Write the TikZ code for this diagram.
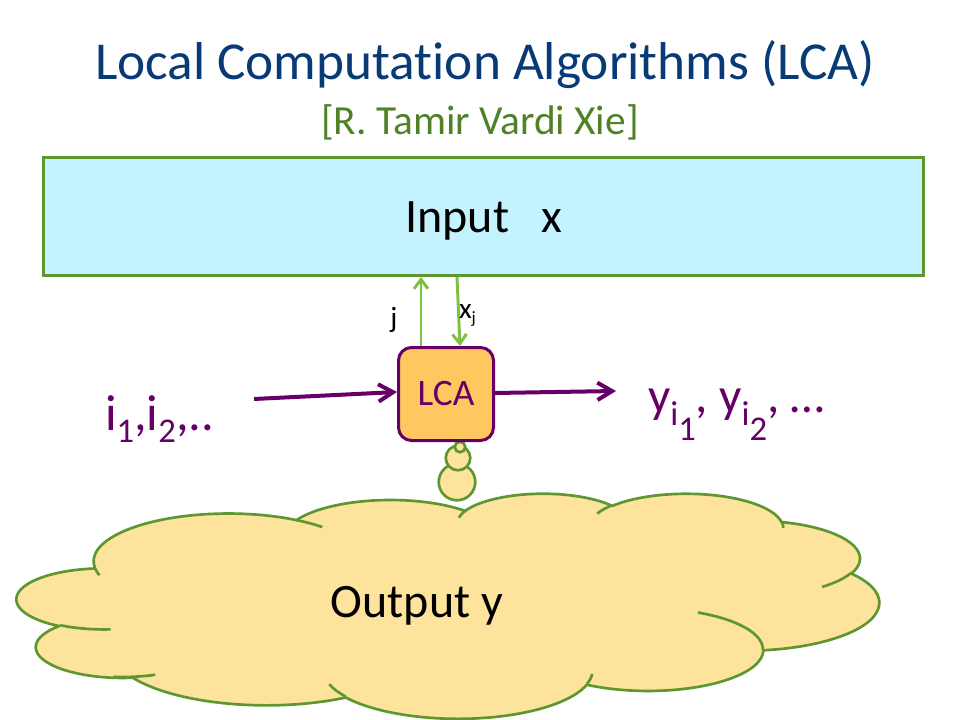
\documentclass[tikz,border=0pt]{standalone}
\usepackage{fontspec}
\setmainfont[Ligatures=NoCommon]{Carlito}
\usetikzlibrary{arrows.meta,calc}
\definecolor{titleblue}{RGB}{8,58,118}
\definecolor{subgreen}{RGB}{79,129,38}
\definecolor{inputfill}{RGB}{197,242,255}
\definecolor{boxgreen}{RGB}{94,151,50}
\definecolor{arrowgreen}{RGB}{124,193,64}
\definecolor{lcafill}{RGB}{255,199,95}
\definecolor{lcapurple}{RGB}{102,0,102}
\definecolor{cloudfill}{RGB}{253,227,155}
\newcommand\cldkx{1.49653pt}
\newcommand\cldky{0.390625pt}
% OOXML-style arcTo: wR hR stAng swAng (degrees, visual angles, y down)
\newcommand\ooarc[4]{arc[start angle={-atan2(#1*sin(#3),#2*cos(#3))}, delta angle={-mod(atan2(#1*sin(#3+#4),#2*cos(#3+#4))-atan2(#1*sin(#3),#2*cos(#3))+720,360)}, x radius={#1*\cldkx}, y radius={#2*\cldky}]}
\newcommand\mysub[1]{\raisebox{-9pt}{\fontsize{26}{30}\selectfont #1}}
\begin{document}
\begin{tikzpicture}[x=0.75pt,y=-0.75pt,
  lbl/.style={inner sep=0pt, outer sep=0pt},
  inbox/.style={draw=boxgreen, fill=inputfill, line width=2.25pt, inner sep=0pt, minimum width=660pt, minimum height=88.5pt},
  lcabox/.style={draw=lcapurple, fill=lcafill, line width=2.25pt, rounded corners=9.75pt, minimum width=71.25pt, minimum height=69.75pt, inner sep=0pt, text=lcapurple, font=\fontsize{28}{32}\selectfont},
  bubble/.style={circle, draw=boxgreen, fill=cloudfill, line width=2pt, inner sep=0pt},
  parrow/.style={draw=lcapurple, line width=3pt, -{Straight Barb[length=11pt,width=13pt]}},
  garrow/.style={draw=arrowgreen, line width=2.2pt, -{Straight Barb[length=7pt,width=10.5pt]}},
  cloudline/.style={draw=boxgreen, line width=2pt, line join=round}]
\fill[white] (0,0) rectangle (960,720);
\useasboundingbox (0,0) rectangle (960,720);

% title
\node[lbl, anchor=base, text=titleblue, font=\fontsize{40}{48}\selectfont] (title) at (485,80) {Local Computation Algorithms (LCA)};
\node[lbl, anchor=base, text=subgreen, font=\fontsize{31}{36}\selectfont] (subtitle) at (480,135) {[R. Tamir Vardi Xie]};

% cloud
\begin{scope}[shift={(17,493)}, x=\cldkx, y=-\cldky]
\path[cloudline, fill=cloudfill] (39.00,143.70)
  \ooarc{67.53}{91.90}{-190.4875}{123.7805}
  \ooarc{53.33}{72.67}{-144.1024}{89.9452}
  \ooarc{43.65}{59.45}{-145.8079}{99.7230}
  \ooarc{48.57}{65.95}{-130.9861}{117.2417}
  \ooarc{53.33}{72.73}{-78.7089}{109.0269}
  \ooarc{67.75}{92.20}{-46.2673}{130.2690}
  \ooarc{57.85}{78.67}{0.6250}{114.0333}
  \ooarc{67.52}{92.15}{22.4516}{115.1726}
  \ooarc{77.20}{105.43}{66.2426}{75.7110}
  \ooarc{43.60}{59.18}{-274.9421}{146.7356}
  \ooarc{43.45}{59.45}{-246.8285}{152.5189}
  -- cycle;
\path[cloudline]
  (46.93,261.77) \ooarc{43.45}{59.45}{86.7420}{26.4295}
  (69.28,348.99) \ooarc{43.60}{59.18}{73.6105}{20.8780}
  (164.78,390.90) \ooarc{67.52}{92.15}{137.6242}{19.2735}
  (288.27,347.51) \ooarc{67.52}{92.15}{6.4533}{15.9984}
  (341.29,229.54) \ooarc{57.85}{78.67}{-70.2924}{70.9174}
  (417.98,153.54) \ooarc{53.33}{72.73}{30.3180}{27.7515}
  (383.24,54.26) \ooarc{48.57}{65.95}{-13.7443}{14.8589}
  (290.78,39.52) \ooarc{48.57}{65.95}{-149.1815}{18.1954}
  (221.41,47.20) \ooarc{43.65}{59.45}{-163.4943}{17.6864}
  (140.00,51.92) \ooarc{67.53}{91.90}{-66.7070}{12.3194}
  (41.27,157.89) \ooarc{67.53}{91.90}{157.6544}{11.8582};
\end{scope}
\node[lbl, anchor=base, font=\fontsize{36}{40}\selectfont] (outlab) at (417,617) {Output y};

% thought bubbles
\node[bubble, minimum size=27.4pt] (b3) at (457,482) {};
\node[bubble, minimum size=18.4pt] (b2) at (458,458) {};
\node[bubble, minimum size=7.9pt] (b1) at (460,447) {};

% input box
\node[inbox] (input) at (483.5,216.5) {};
\node[lbl, anchor=base, font=\fontsize{36}{40}\selectfont] (inlab) at (484,233) {Input~~~x};

% LCA box
\node[lcabox] (lca) at (446,394) {LCA};

% purple arrows
\coordinate (lstart) at (254,399);
\coordinate (rend) at (616,391);
\draw[parrow] (lstart) -- ([yshift=1.5pt]lca.west);
\draw[parrow] ([yshift=0.75pt]lca.east) -- (rend);

% green arrows
\coordinate (jfoot) at ($(lca.north)+(-25,0)$);
\draw[garrow] (jfoot) -- (jfoot |- input.south);
\coordinate (xfoot) at ($(lca.north)+(14,0)$);
\coordinate (xtop) at ($(xfoot |- input.south)+(-3,0)$);
\draw[garrow] (xtop) -- (xfoot);
\node[lbl, anchor=base, font=\fontsize{22}{26}\selectfont] (jlab) at (394,327) {j};
\node[lbl, anchor=base west, font=\fontsize{22}{26}\selectfont] (xlab) at (459,318) {x\raisebox{-4pt}{\fontsize{13}{15}\selectfont j}};

% index labels
\node[lbl, anchor=base west, text=lcapurple, font=\fontsize{38}{42}\selectfont] (ilab) at (105,430) {i\mysub{1},i\mysub{2},..};
\node[lbl, anchor=base west, text=lcapurple, font=\fontsize{37}{42}\selectfont] (ylab) at (648,412) {y\raisebox{-9.75pt}{\fontsize{26}{30}\selectfont i\raisebox{-11.25pt}{1}}, y\raisebox{-9.75pt}{\fontsize{26}{30}\selectfont i\raisebox{-11.25pt}{2}}, …};
\end{tikzpicture}
\end{document}
